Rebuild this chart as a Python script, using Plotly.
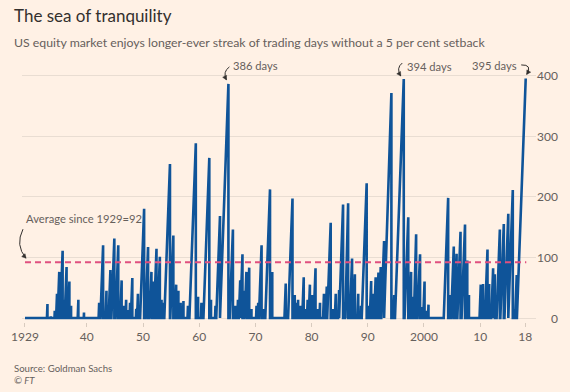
import math
import plotly.graph_objects as go

# ---- data (streak end, length in trading days) ----
streak_end = [
    1933.0, 1933.6, 1934.3, 1934.7, 1935.1, 1935.7, 1936.0, 1936.4, 1936.9, 1937.2,
    1938.5, 1939.5, 1942.2, 1942.9, 1943.5, 1943.8, 1944.2, 1944.9, 1945.6, 1946.2,
    1946.5, 1947.0, 1947.4, 1947.7, 1948.1, 1948.8, 1949.1, 1949.4, 1950.2, 1950.9,
    1951.2, 1951.5, 1951.8, 1952.4, 1953.0, 1953.3, 1953.6, 1954.8, 1955.4, 1955.9,
    1956.3, 1956.7, 1957.2, 1958.0, 1959.4, 1959.8, 1960.4, 1961.8, 1962.1, 1962.9,
    1963.7, 1965.2, 1966.0, 1966.4, 1966.9, 1967.3, 1967.7, 1968.1, 1968.4, 1968.9,
    1969.3, 1970.2, 1970.5, 1971.1, 1971.4, 1972.6, 1973.0, 1975.4, 1976.6, 1977.0,
    1977.3, 1977.6, 1978.0, 1978.6, 1978.9, 1979.3, 1979.7, 1980.1, 1980.7, 1981.0,
    1981.5, 1982.2, 1982.7, 1983.4, 1983.8, 1984.3, 1984.9, 1985.6, 1986.0, 1986.5,
    1987.2, 1987.7, 1988.3, 1988.8, 1989.8, 1990.2, 1990.6, 1991.0, 1991.4, 1991.9,
    1992.3, 1992.9, 1994.2, 1994.7, 1996.4, 1997.2, 1997.7, 1998.0, 1998.2, 1998.6,
    1998.9, 1999.3, 1999.6, 2000.1, 2000.4, 2000.8, 2004.3, 2004.6, 2005.3, 2005.8,
    2006.5, 2007.3, 2007.7, 2008.0, 2010.1, 2010.5, 2011.3, 2011.6, 2011.8, 2012.3,
    2012.6, 2013.5, 2014.2, 2015.0, 2015.8, 2016.1, 2016.5, 2018.1,
]
streak_days = [
    23, 3, 12, 40, 76, 111, 30, 84, 60, 20,
    30, 9, 25, 120, 45, 20, 79, 131, 120, 62,
    20, 30, 13, 25, 66, 15, 40, 20, 180, 117,
    45, 76, 60, 114, 101, 30, 25, 254, 136, 55,
    45, 25, 28, 20, 288, 35, 25, 264, 30, 20,
    168, 386, 146, 20, 30, 62, 105, 45, 76, 83,
    15, 20, 25, 120, 15, 212, 76, 57, 197, 38,
    25, 30, 20, 67, 15, 30, 55, 38, 82, 15,
    25, 40, 52, 157, 15, 40, 46, 187, 15, 189,
    98, 72, 40, 20, 222, 20, 61, 40, 67, 75,
    84, 127, 371, 38, 394, 166, 76, 35, 15, 138,
    20, 105, 18, 60, 12, 22, 198, 38, 118, 106,
    142, 154, 95, 38, 55, 56, 113, 56, 20, 82,
    72, 146, 155, 172, 211, 15, 71, 395,
]
series_start = 1929.0
trading_days_per_year = 252

labelled_peaks = [386, 394, 395]
average_value = 92
average_label = "Average since 1929=92"

x_tick_values = [1929, 1940, 1950, 1960, 1970, 1980, 1990, 2000, 2010, 2018]
x_tick_labels = ["1929", "40", "50", "60", "70", "80", "90", "2000", "10", "18"]
y_tick_values = [0, 100, 200, 300, 400]

title = "The sea of tranquility"
subtitle = "US equity market enjoys longer-ever streak of trading days without a 5 per cent setback"
source = "Source: Goldman Sachs"

# ---- build the sawtooth streak counter ----
xs, ys = [series_start], [0]
prev = series_start
for i, (e, d) in enumerate(zip(streak_end, streak_days)):
    s = max(prev, e - d / trading_days_per_year)
    xs += [s, e]
    ys += [0, d]
    if i < len(streak_end) - 1:  # last streak is still running
        xs.append(e)
        ys.append(0)
    prev = e

# ---- geometry ----
W, H = 570, 392
L, R, T, B = 22, 34, 70, 70
pw, ph = W - L - R, H - T - B
XR = [1928.47, 2019.93]
YR = [-6.6, 408.9]

def ppx(px):
    return (px - L) / pw

def ppy(py):
    return (H - B - py) / ph

def paper_of(xv, yv):
    return (xv - XR[0]) / (XR[1] - XR[0]), (yv - YR[0]) / (YR[1] - YR[0])

BG = "#fff1e5"
BLUE = "#0f5499"
PINK = "#e0507f"
GREY = "#66605c"
INK = "#33302e"
FONT = "Lato, 'Open Sans', sans-serif"
ANN = 11.2

fig = go.Figure()
fig.add_trace(go.Scatter(x=xs, y=ys, mode="lines",
                         line=dict(color=BLUE, width=2.6), hoverinfo="skip"))

shapes = []
shapes.append(dict(type="line", xref="x", yref="y", x0=series_start, x1=streak_end[-1] + 0.1,
                   y0=average_value, y1=average_value,
                   line=dict(color=PINK, width=2, dash="6px,4px")))

annotations = []

def curved_arrow(xv, yv, pts):
    # pts: pixel offsets (start, control, end) from the anchored data point
    ax, ay = paper_of(xv, yv)
    def P(ox, oy):
        return ax + ox / pw, ay - oy / ph
    (sx, sy), (cx, cy), (ex, ey) = pts
    a, b, c = P(sx, sy), P(cx, cy), P(ex, ey)
    path = "M {},{} Q {},{} {},{}".format(a[0], a[1], b[0], b[1], c[0], c[1])
    shapes.append(dict(type="path", xref="paper", yref="paper", path=path,
                       line=dict(color=INK, width=1)))
    vx, vy = ex - cx, ey - cy
    n = math.hypot(vx, vy) or 1
    ux, uy = vx / n, vy / n
    size = 4
    bx, by = ex - ux * size, ey - uy * size
    p1 = P(bx - uy * size * 0.55, by + ux * size * 0.55)
    p2 = P(bx + uy * size * 0.55, by - ux * size * 0.55)
    tri = "M {},{} L {},{} L {},{} Z".format(c[0], c[1], p1[0], p1[1], p2[0], p2[1])
    shapes.append(dict(type="path", xref="paper", yref="paper", path=tri,
                       fillcolor=INK, line=dict(color=INK, width=0.5)))

peak_idx = {v: streak_days.index(v) for v in labelled_peaks}

i = peak_idx[386]
annotations.append(dict(x=streak_end[i], y=streak_days[i], xref="x", yref="y",
                        text="386 days", showarrow=False, xanchor="left", yanchor="middle",
                        xshift=3, yshift=18, font=dict(size=ANN, color=GREY, family=FONT)))
curved_arrow(streak_end[i], streak_days[i], [(1, -17), (-6, -12), (-2, -4)])
i = peak_idx[394]
annotations.append(dict(x=streak_end[i], y=streak_days[i], xref="x", yref="y",
                        text="394 days", showarrow=False, xanchor="left", yanchor="middle",
                        xshift=1, yshift=13, font=dict(size=ANN, color=GREY, family=FONT)))
curved_arrow(streak_end[i], streak_days[i], [(-1.5, -16), (-8, -11), (-3, -3)])
i = peak_idx[395]
annotations.append(dict(x=streak_end[i], y=streak_days[i], xref="x", yref="y",
                        text="395 days", showarrow=False, xanchor="right", yanchor="middle",
                        xshift=-7, yshift=13, font=dict(size=ANN, color=GREY, family=FONT)))
curved_arrow(streak_end[i], streak_days[i], [(-4.5, -13.5), (7, -14), (1, -4)])
annotations.append(dict(x=series_start, y=average_value, xref="x", yref="y",
                        text=average_label, showarrow=False, xanchor="left", yanchor="middle",
                        xshift=-1, yshift=44, font=dict(size=ANN, color=GREY, family=FONT)))
curved_arrow(series_start, average_value, [(-2, -33), (-10, -17), (1, -4)])

for v in y_tick_values:
    annotations.append(dict(x=ppx(560), y=v, xref="paper", yref="y", text=str(v),
                            showarrow=False, xanchor="right", yanchor="middle",
                            font=dict(size=12, color=GREY, family=FONT)))

annotations.append(dict(x=ppx(12), y=ppy(15), xref="paper", yref="paper", text=title,
                        showarrow=False, xanchor="left", yanchor="middle",
                        font=dict(size=17, color=INK, family=FONT)))
annotations.append(dict(x=ppx(12), y=ppy(43), xref="paper", yref="paper", text=subtitle,
                        showarrow=False, xanchor="left", yanchor="middle",
                        font=dict(size=12.3, color=GREY, family=FONT)))
annotations.append(dict(x=ppx(12), y=ppy(368), xref="paper", yref="paper", text=source,
                        showarrow=False, xanchor="left", yanchor="middle",
                        font=dict(size=9.6, color=GREY, family=FONT)))
annotations.append(dict(x=ppx(12), y=ppy(380), xref="paper", yref="paper", text="<i>© FT</i>",
                        showarrow=False, xanchor="left", yanchor="middle",
                        font=dict(size=9.6, color=GREY, family=FONT)))

fig.update_layout(
    width=W, height=H, margin=dict(l=L, r=R, t=T, b=B, pad=0),
    paper_bgcolor=BG, plot_bgcolor=BG, showlegend=False,
    shapes=shapes, annotations=annotations,
    xaxis=dict(range=XR, tickvals=x_tick_values, ticktext=x_tick_labels,
               showgrid=False, zeroline=False, showline=False,
               ticks="outside", ticklen=4, tickcolor="#d8cbbf",
               tickfont=dict(size=12, color=GREY, family=FONT)),
    yaxis=dict(range=YR, tickvals=y_tick_values, showticklabels=False,
               showgrid=True, gridcolor="#e9ddd2", gridwidth=1,
               zeroline=False, showline=False),
    font=dict(family=FONT),
)

fig.write_html("out.html", config={"displayModeBar": False},
               post_script="document.body.style.margin='0';document.body.style.background='#fff1e5';")
